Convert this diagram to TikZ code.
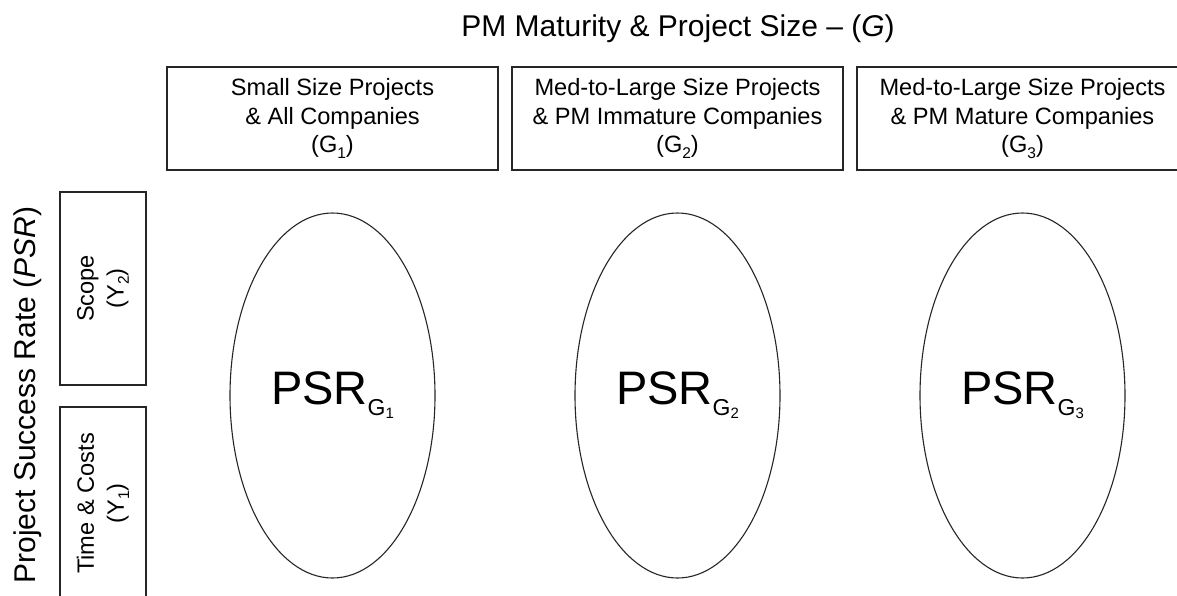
\documentclass[tikz,border=0pt]{standalone}
\usepackage{fontspec}
\setmainfont{Liberation Sans}
\usetikzlibrary{shapes.geometric}
\newcommand\boxsub[1]{\raisebox{-0.22em}{\fontsize{15.5}{15.5}\selectfont #1}}
\newcommand\psrsub[2]{{\fontsize{47}{50}\selectfont PSR}\raisebox{-11pt}{\fontsize{23}{23}\selectfont #1\raisebox{-3pt}{\fontsize{15}{15}\selectfont #2}}}
\tikzset{
  line/.style={line width=1.1pt, draw=black!85},
  topbox/.style={line, rectangle, minimum width=331pt, minimum height=103pt, inner sep=0pt, align=center, font=\fontsize{23.6}{28.5}\selectfont},
  sidebox/.style={line, rectangle, rotate=90, minimum width=193pt, minimum height=86pt, inner sep=0pt, align=center, font=\fontsize{23.6}{30}\selectfont},
  oval/.style={line, ellipse, minimum width=205pt, minimum height=365pt, inner sep=0pt},
  bigtitle/.style={font=\fontsize{30}{34}\selectfont, inner sep=0pt}
}
\begin{document}
\begin{tikzpicture}[x=1pt,y=-1pt]
\useasboundingbox (0,0) rectangle (1177,595);
\clip (0,0) rectangle (1177,595);
\fill[white] (0,0) rectangle (1177,595);
\node[bigtitle] (title) at (678,29) {PM Maturity \& Project Size – (\textit{G})};
\node[bigtitle, rotate=90] (psr) at (28,395) {Project Success Rate (\textit{PSR})};
\node[topbox] (g1) at (332.5,118.5) {Small Size Projects\\ \& All Companies\\ (G\boxsub{1})};
\node[topbox] (g2) at (677.5,118.5) {Med-to-Large Size Projects\\ \& PM Immature Companies\\ (G\boxsub{2})};
\node[topbox] (g3) at (1022.5,118.5) {Med-to-Large Size Projects\\ \& PM Mature Companies\\ (G\boxsub{3})};
\node[sidebox] (y2) at (103,288.5) {Scope\\ (Y\boxsub{2})};
\node[sidebox] (y1) at (103,503.5) {Time \& Costs\\ (Y\boxsub{1})};
\node[oval] (e1) at (332.5,395.5) {\psrsub{G}{1}};
\node[oval] (e2) at (677.5,395.5) {\psrsub{G}{2}};
\node[oval] (e3) at (1022.5,395.5) {\psrsub{G}{3}};
\end{tikzpicture}
\end{document}
